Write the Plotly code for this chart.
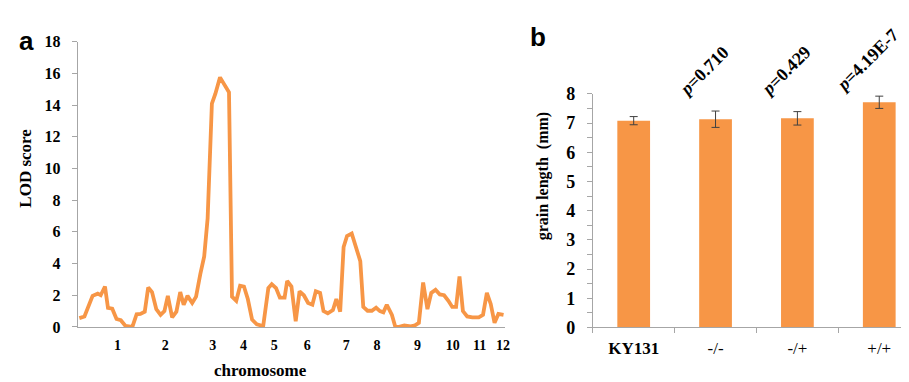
import plotly.graph_objects as go

# ---- Panel a: LOD profile ----
pos = [0.4, 1.6, 3.5, 4.7, 5.4, 6.4, 7.1, 8.1, 9.1, 10.1, 11.2, 12.8, 13.8, 14.7, 15.7,
       16.5, 17.4, 18.4, 19.4, 20.3, 21.1, 22.1, 23.1, 24.0, 24.8, 25.7, 26.8, 27.7, 28.7,
       29.6, 30.4, 31.4, 32.2, 33.3, 35.4, 36.1, 37.1, 38.0, 38.9, 39.8, 40.8, 41.9, 43.4,
       44.6, 45.4, 46.4, 47.3, 48.4, 49.0, 50.0, 51.0, 51.9, 52.9, 53.9, 54.9, 55.7, 56.7,
       57.5, 58.5, 59.7, 60.5, 61.4, 62.2, 63.0, 64.1, 65.1, 66.1, 66.8, 67.8, 68.8, 69.8,
       70.7, 71.5, 72.3, 73.5, 74.3, 75.2, 76.4, 77.9, 78.9, 79.8, 80.8, 81.8, 82.7, 83.7,
       84.7, 85.7, 86.7, 87.6, 88.5, 89.3, 90.1, 91.1, 92.3, 93.8, 94.8, 95.7, 96.6, 97.5,
       98.4, 99.6]
lod = [0.56, 0.66, 1.96, 2.1, 2.0, 2.55, 1.2, 1.15, 0.5, 0.42, 0.06, 0.0, 0.8, 0.82, 0.96,
       2.49, 2.2, 1.12, 0.76, 1.0, 1.96, 0.6, 0.96, 2.2, 1.4, 1.96, 1.51, 1.91, 3.35,
       4.45, 6.84, 14.1, 14.7, 15.75, 14.8, 1.91, 1.65, 2.6, 2.55, 1.76, 0.46, 0.16, 0.06,
       2.45, 2.7, 2.45, 1.85, 1.85, 2.9, 2.55, 0.36, 2.25, 2.0, 1.51, 1.4, 2.25, 2.15,
       1.0, 0.86, 1.06, 1.76, 0.96, 5.04, 5.74, 5.9, 5.04, 4.15, 1.26, 1.02, 1.02, 1.21,
       1.0, 0.92, 1.4, 0.76, 0.0, 0.0, 0.1, 0.04, 0.1, 0.26, 2.8, 1.12, 2.15, 2.35,
       2.05, 2.0, 1.65, 1.26, 1.26, 3.19, 1.0, 0.66, 0.6, 0.6, 0.76, 2.15, 1.45, 0.26,
       0.82, 0.76]
chrom_pos = [9.3, 20.5, 31.6, 38.8, 46.0, 53.7, 62.8, 70.0, 79.5, 87.7, 94.0, 99.5]
chrom_labels = ["1", "2", "3", "4", "5", "6", "7", "8", "9", "10", "11", "12"]
lod_ticks = [0, 2, 4, 6, 8, 10, 12, 14, 16, 18]

# ---- Panel b: grain length ----
genotypes = ["KY131", "-/-", "-/+", "+/+"]
genotype_labels = ["<b>KY131</b>", "-/-", "-/+", "+/+"]
grain_len = [7.08, 7.13, 7.16, 7.71]
grain_err = [0.14, 0.28, 0.23, 0.21]
p_texts = ["", "<i>p</i>=0.710", "<i>p</i>=0.429", "<i>p</i>=4.19E-7"]

ORANGE = "#F79646"
AXIS = "#A6A6A6"
SERIF = "Liberation Serif"

W, H = 909, 382
def px(xp):
    return xp / W
def py(yp):
    return (H - yp) / H

fig = go.Figure()
fig.add_trace(go.Scatter(x=pos, y=lod, mode="lines",
                         line=dict(color=ORANGE, width=3.8),
                         xaxis="x", yaxis="y", showlegend=False, hoverinfo="skip"))
fig.add_trace(go.Bar(x=genotypes, y=grain_len, marker=dict(color=ORANGE, line=dict(width=0)),
                     width=0.4,
                     error_y=dict(type="data", array=grain_err, color="#404040",
                                  thickness=1, width=4),
                     xaxis="x2", yaxis="y2", showlegend=False, hoverinfo="skip"))

axis_common = dict(showgrid=False, zeroline=False, showline=True, linecolor=AXIS,
                   linewidth=1, tickcolor=AXIS)

fig.update_layout(
    width=W, height=H, margin=dict(l=0, r=0, t=0, b=0),
    paper_bgcolor="white", plot_bgcolor="white",
    font=dict(family=SERIF, color="black"),
    xaxis=dict(domain=[px(70), px(500)], range=[0, 100], tickmode="array",
               tickvals=chrom_pos, ticktext=["<b>%s</b>" % t for t in chrom_labels],
               ticks="", tickfont=dict(family=SERIF, size=14), anchor="y",
               ticklabelstandoff=5, **axis_common),
    yaxis=dict(domain=[py(326), py(25)], range=[0, 18], tickmode="array",
               tickvals=lod_ticks, ticktext=["<b>%d</b>" % t for t in lod_ticks],
               ticks="outside", ticklen=5, tickfont=dict(family=SERIF, size=16),
               ticklabelstandoff=8, anchor="x", **axis_common),
    xaxis2=dict(domain=[px(588), 1.0], range=[-0.5, 3.4], tickmode="array",
                tickvals=genotypes, ticktext=genotype_labels, tickson="boundaries",
                ticks="outside", ticklen=5, tickfont=dict(family=SERIF, size=17),
                ticklabelstandoff=5, anchor="y2", **axis_common),
    yaxis2=dict(domain=[py(326.5), py(80)], range=[0, 8], tickmode="array",
                tickvals=[i * 0.5 for i in range(17)],
                ticktext=["<b>%d</b>" % (i // 2) if i % 2 == 0 else "" for i in range(17)],
                ticks="outside", ticklen=5, tickfont=dict(family=SERIF, size=18),
                ticklabelstandoff=8, anchor="x2", **axis_common),
)

ann = []
ann.append(dict(text="<b>a</b>", x=px(9), y=py(24), xref="paper", yref="paper",
                showarrow=False, font=dict(family="Liberation Sans", size=26),
                xanchor="left", yanchor="middle"))
ann.append(dict(text="<b>b</b>", x=px(523), y=py(20), xref="paper", yref="paper",
                showarrow=False, font=dict(family="Liberation Sans", size=26),
                xanchor="left", yanchor="middle"))
ann.append(dict(text="<b>LOD score</b>", x=px(18), y=py(158), xref="paper", yref="paper",
                showarrow=False, textangle=-90, font=dict(family=SERIF, size=17),
                xanchor="center", yanchor="middle"))
ann.append(dict(text="<b>chromosome</b>", x=px(254), y=py(372), xref="paper", yref="paper",
                showarrow=False, font=dict(family=SERIF, size=17),
                xanchor="center", yanchor="middle"))
ann.append(dict(text="<b>grain length  (mm)</b>", x=px(538), y=py(167), xref="paper",
                yref="paper", showarrow=False, textangle=-90,
                font=dict(family=SERIF, size=16), xanchor="center", yanchor="middle"))
p_cx = [0, 700, 782, 864]
p_cy = [0, 56, 56, 44]
for t, cx, cy in zip(p_texts, p_cx, p_cy):
    if not t:
        continue
    ann.append(dict(text="<b>%s</b>" % t, x=px(cx), y=py(cy), xref="paper", yref="paper",
                    showarrow=False, textangle=-45, font=dict(family=SERIF, size=18),
                    xanchor="center", yanchor="middle"))
fig.update_layout(annotations=ann)

fig.write_html("out.html")
